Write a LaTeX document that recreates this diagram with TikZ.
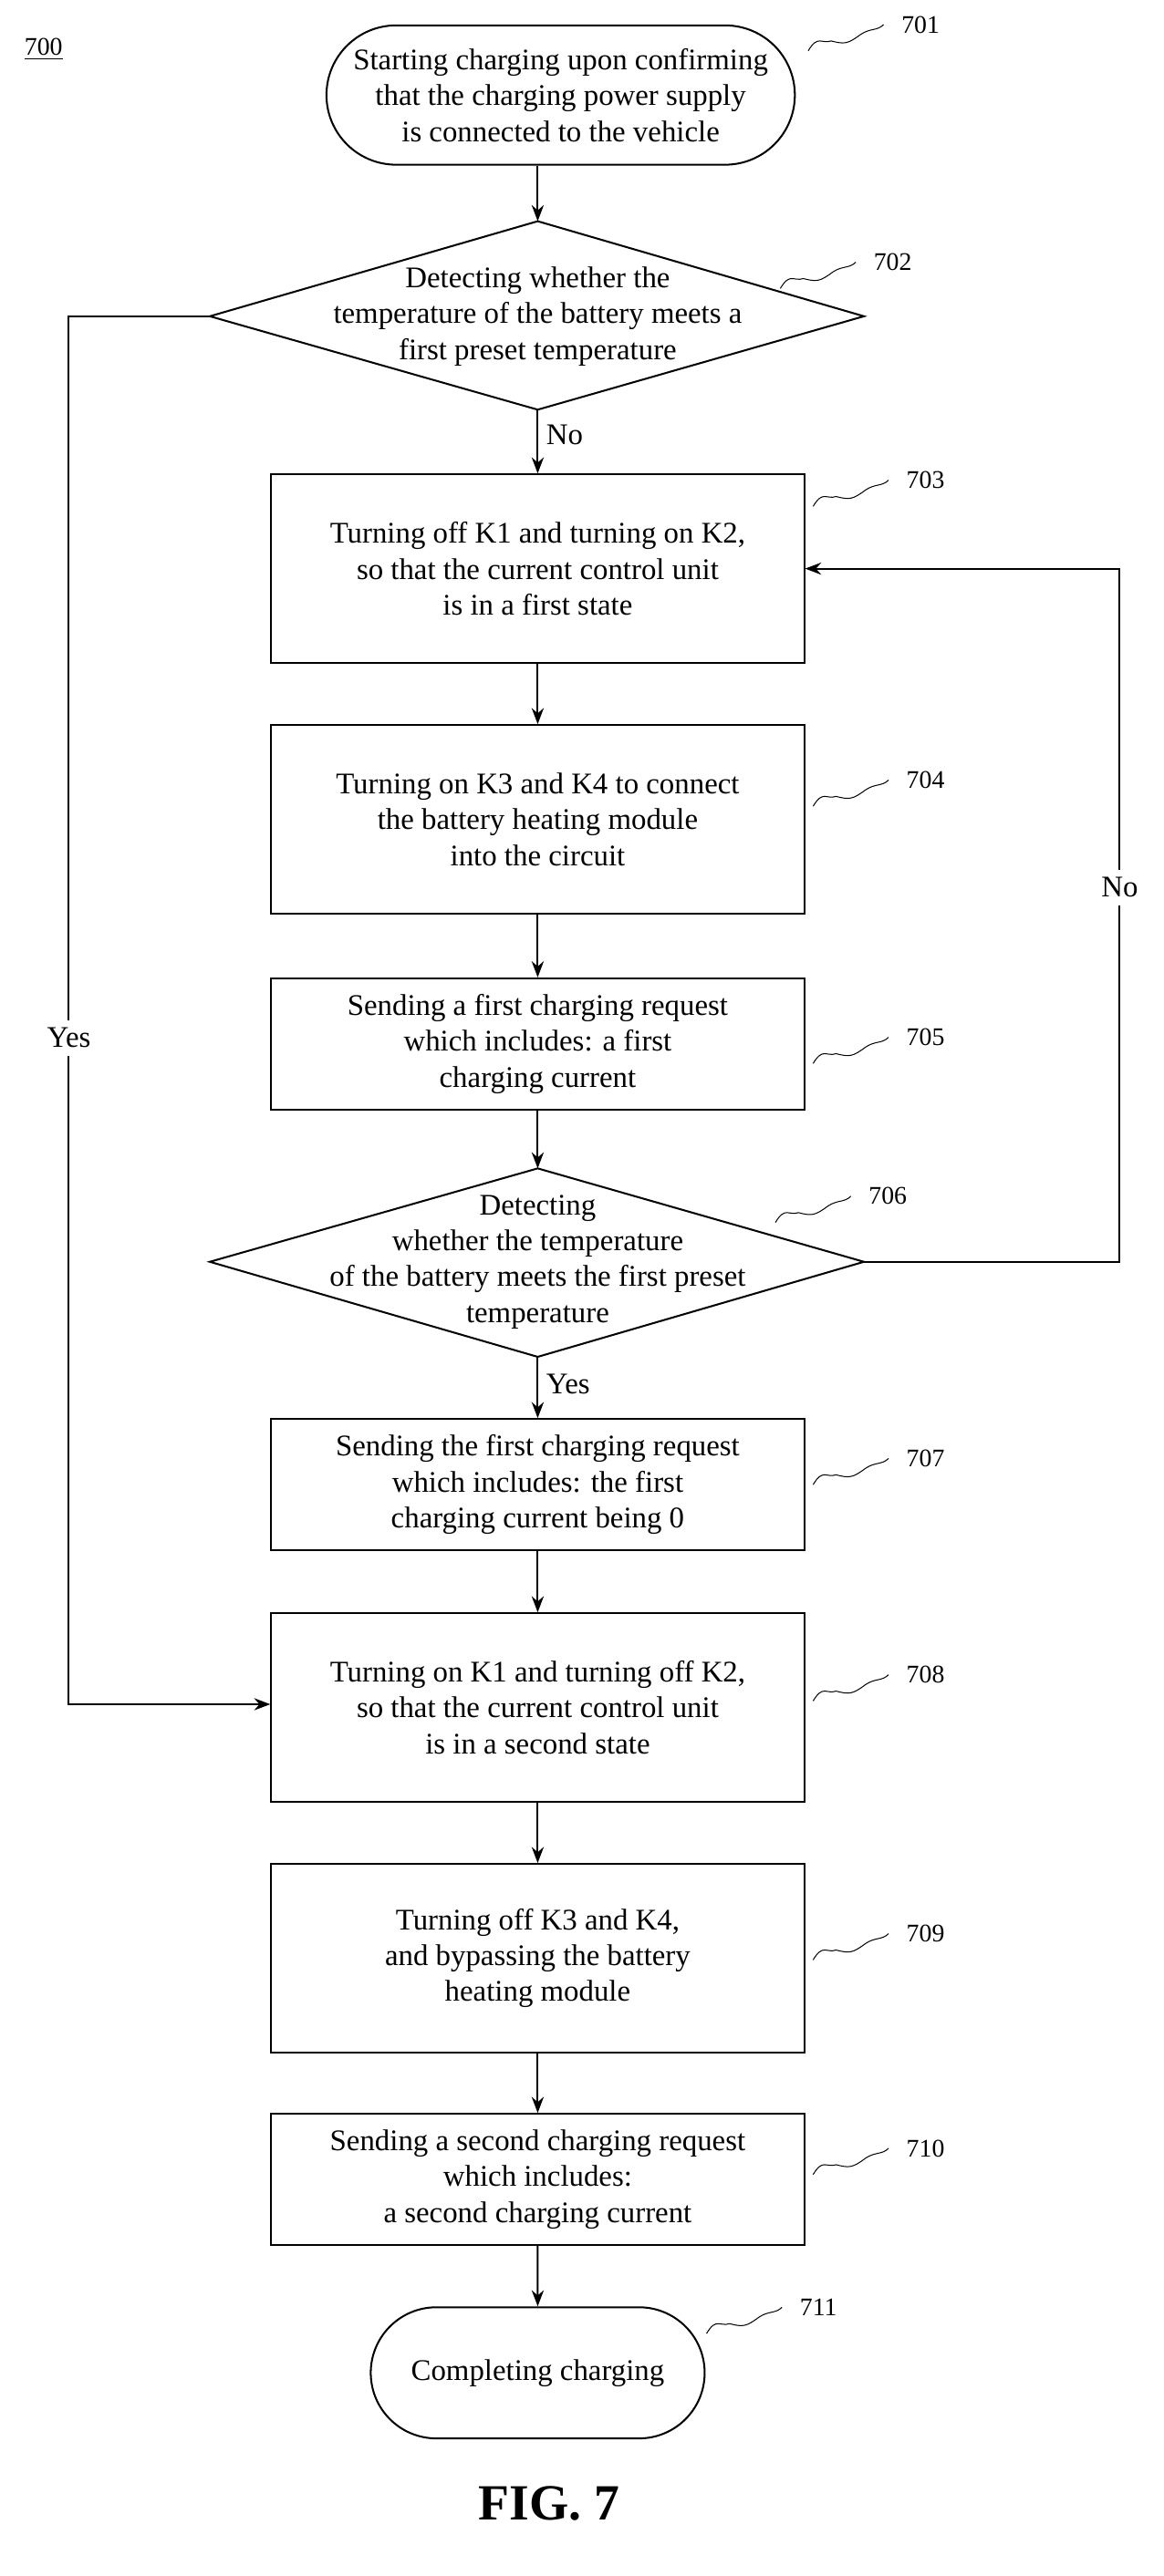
\documentclass[tikz,border=0pt]{standalone}
\usepackage{fontspec}
\setmainfont{Liberation Serif}
\usetikzlibrary{shapes.misc,arrows.meta}
\tikzset{
  box/.style={draw, thick, rectangle, minimum width=8.125cm, align=center},
  term/.style={draw, thick, rounded rectangle, align=center},
  dectext/.style={align=center, inner sep=0pt},
  flow/.style={thick, -{Stealth[length=7pt]}},
  tag/.style={font=\fontsize{11}{13}\selectfont}
}
\begin{document}
\begin{tikzpicture}[x=0.025cm, y=-0.025cm, font=\fontsize{13}{15.6}\selectfont]
\useasboundingbox (0,0) rectangle (710,1572);
% Label of figure
\node[tag, anchor=west] (fig) at (10,30) {\underline{700}};

% Steps
\node[term, minimum width=7.375cm, minimum height=2.125cm] (start) at (342,58) {Starting charging upon confirming\\that the charging power supply\\is connected to the vehicle};
\node[dectext] (chk1) at (328,193) {Detecting whether the\\temperature of the battery meets a\\first preset temperature};
\draw[thick] (128,193) coordinate (chk1w) -- (328,135) coordinate (chk1n) -- (527,193) -- (328,250) coordinate (chk1s) -- cycle;
\node[box, minimum height=2.875cm] (off1) at (328,347) {Turning off K1 and turning on K2,\\so that the current control unit\\is in a first state};
\node[box, minimum height=2.875cm] (on34) at (328,500) {Turning on K3 and K4 to connect\\the battery heating module\\into the circuit};
\node[box, minimum height=2cm] (req1) at (328,637) {Sending a first charging request\\which includes: a first\\charging current};
\node[dectext] (chk2) at (328,770) {Detecting\\whether the temperature\\of the battery meets the first preset\\temperature};
\draw[thick] (128,770) -- (328,713) coordinate (chk2n) -- (527,770) coordinate (chk2e) -- (328,828) coordinate (chk2s) -- cycle;
\node[box, minimum height=2cm] (req0) at (328,906) {Sending the first charging request\\which includes: the first\\charging current being 0};
\node[box, minimum height=2.875cm] (on1) at (328,1042) {Turning on K1 and turning off K2,\\so that the current control unit\\is in a second state};
\node[box, minimum height=2.875cm] (off34) at (328,1195) {Turning off K3 and K4,\\and bypassing the battery\\heating module};
\node[box, minimum height=2cm] (req2) at (328,1330) {Sending a second charging request\\which includes:\\a second charging current};
\node[term, minimum width=5.325cm, minimum height=2cm] (done) at (328,1448) {Completing charging};

% Reference numbers
\foreach \n/\lx/\ly in {701/545/15, 702/528/160, 703/548/293, 704/548/476, 705/548/633,
    706/525/730, 707/548/890, 708/548/1022, 709/548/1180, 710/548/1311, 711/483/1408} {
  \node[tag, anchor=west] (r\n) at (\lx,\ly) {\n};
  \draw[thin] (r\n.west) ++(-52,16) .. controls +(6,-10) and +(-6,2) .. ++(14,-6)
    .. controls +(8,2) and +(-8,6) .. ++(18,-4) .. controls +(6,-4) and +(-4,4) .. ++(14,-6);
}

% Main flow
\draw[flow] (start.south -| chk1n) -- (chk1n);
\draw[flow] (chk1s) -- node[right, pos=0.4] {No} (off1);
\draw[flow] (off1) -- (on34);
\draw[flow] (on34) -- (req1);
\draw[flow] (req1) -- (chk2n);
\draw[flow] (chk2s) -- node[right, pos=0.45] {Yes} (req0);
\draw[flow] (req0) -- (on1);
\draw[flow] (on1) -- (off34);
\draw[flow] (off34) -- (req2);
\draw[flow] (req2) -- (done);

% Loops
\coordinate (yesA) at (42,193);
\coordinate (yesB) at (42,1040);
\draw[flow] (chk1w) -- (yesA) -- node[fill=white, pos=0.52] {Yes} (yesB) -- (on1.west |- yesB);
\coordinate (noA) at (683,770);
\coordinate (noB) at (683,347);
\draw[flow] (chk2e) -- (noA) -- node[fill=white, pos=0.54] {No} (noB) -- (off1.east);

% Caption
\node[font=\fontsize{22}{26}\selectfont\bfseries] (cap) at (335,1528) {FIG. 7};
\end{tikzpicture}
\end{document}
